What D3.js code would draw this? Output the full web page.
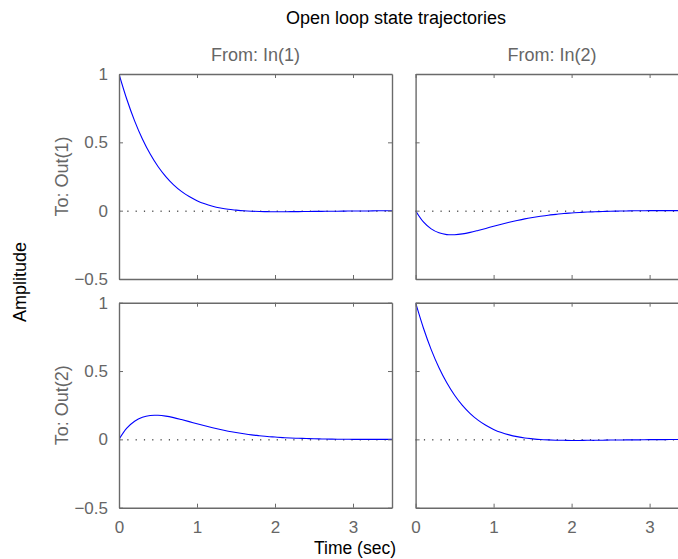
<!DOCTYPE html>
<html>
<head>
<meta charset="utf-8">
<script src="https://cdn.jsdelivr.net/npm/d3@7"></script>
<style>
  html, body { margin: 0; padding: 0; background: #fff; }
  svg { display: block; font-family: "Liberation Sans", Arial, Helvetica, sans-serif; }
</style>
</head>
<body>
<svg id="chart" width="678" height="559"></svg>
<script>
// ---- data ----
const time = [0,0.1,0.2,0.3,0.4,0.5,0.6,0.7,0.8,0.9,1.0,1.1,1.2,1.3,1.4,1.5,1.6,1.7,1.8,1.9,2.0,2.1,2.2,2.3,2.4,2.5,2.6,2.7,2.8,2.9,3.0,3.1,3.2,3.3,3.4,3.5];
const out1FromIn1 = [1.000,0.815,0.657,0.524,0.414,0.323,0.249,0.189,0.141,0.103,0.073,0.050,0.033,0.020,0.010,0.004,-0.001,-0.004,-0.006,-0.007,-0.008,-0.008,-0.007,-0.007,-0.006,-0.005,-0.005,-0.004,-0.004,-0.003,-0.002,-0.002,-0.002,-0.001,-0.001,-0.001];
const out2FromIn1 = [0.000,0.082,0.133,0.162,0.175,0.176,0.170,0.159,0.145,0.130,0.114,0.099,0.085,0.072,0.060,0.050,0.041,0.033,0.027,0.021,0.017,0.013,0.010,0.008,0.006,0.004,0.003,0.002,0.001,0.001,0.000,0.000,0.000,0.000,0.000,0.000];
const out1FromIn2 = [0.000,-0.082,-0.133,-0.162,-0.175,-0.176,-0.170,-0.159,-0.145,-0.130,-0.114,-0.099,-0.085,-0.072,-0.060,-0.050,-0.041,-0.033,-0.027,-0.021,-0.017,-0.013,-0.010,-0.008,-0.006,-0.004,-0.003,-0.002,-0.001,-0.001,0.000,0.000,0.000,0.000,0.000,0.000];
const out2FromIn2 = [1.000,0.815,0.657,0.524,0.414,0.323,0.249,0.189,0.141,0.103,0.073,0.050,0.033,0.020,0.010,0.004,-0.001,-0.004,-0.006,-0.007,-0.008,-0.008,-0.007,-0.007,-0.006,-0.005,-0.005,-0.004,-0.004,-0.003,-0.002,-0.002,-0.002,-0.001,-0.001,-0.001];
const inputs = ["From: In(1)", "From: In(2)"];
const outputs = ["To: Out(1)", "To: Out(2)"];
const xTicks = [0, 1, 2, 3];
const yTicks = [-0.5, 0, 0.5, 1];
const xDomain = [0, 3.5];
const yDomain = [-0.5, 1];
const series = [[out1FromIn1, out1FromIn2], [out2FromIn1, out2FromIn2]]; // [row][col]

// ---- layout ----
const svg = d3.select("#chart");
const colX = [[119, 392], [415.6, 688.6]];
const rowY = [[279, 74], [507.7, 302.7]];
const axisColor = "#6a6a6a";
const textGray = "#666";
const fs = 18;

const defs = svg.append("defs");

svg.append("text").attr("x", 396).attr("y", 24).attr("text-anchor", "middle")
  .attr("font-size", fs).attr("fill", "#000").text("Open loop state trajectories");

inputs.forEach((t, c) => {
  svg.append("text").attr("x", (colX[c][0] + colX[c][1]) / 2).attr("y", 61)
    .attr("text-anchor", "middle").attr("font-size", fs).attr("fill", textGray).text(t);
});

outputs.forEach((t, r) => {
  const cy = (rowY[r][0] + rowY[r][1]) / 2;
  svg.append("text").attr("transform", `translate(68,${cy}) rotate(-90)`)
    .attr("text-anchor", "middle").attr("font-size", fs).attr("fill", textGray).text(t);
});

svg.append("text").attr("transform", `translate(26,282) rotate(-90)`)
  .attr("text-anchor", "middle").attr("font-size", fs).attr("fill", "#000").text("Amplitude");

svg.append("text").attr("x", 355).attr("y", 554).attr("text-anchor", "middle")
  .attr("font-size", 17.5).attr("fill", "#000").text("Time (sec)");

const fmtY = d => d < 0 ? "\u2212" + Math.abs(d) : String(d);

for (let r = 0; r < 2; r++) {
  for (let c = 0; c < 2; c++) {
    const x = d3.scaleLinear().domain(xDomain).range(colX[c]);
    const y = d3.scaleLinear().domain(yDomain).range(rowY[r]);
    const g = svg.append("g");
    const id = `clip${r}${c}`;
    defs.append("clipPath").attr("id", id).append("rect")
      .attr("x", colX[c][0]).attr("y", rowY[r][1])
      .attr("width", colX[c][1] - colX[c][0]).attr("height", rowY[r][0] - rowY[r][1]);

    // zero reference line
    g.append("line").attr("x1", x(0)).attr("x2", x(3.5)).attr("y1", y(0)).attr("y2", y(0))
      .attr("stroke", "#000").attr("stroke-width", 1).attr("stroke-dasharray", "1.2,7.1")
      .attr("transform", "translate(0,0.5)");

    // curve
    const vals = series[r][c];
    const line = d3.line().x((d, i) => x(time[i])).y(d => y(d)).curve(d3.curveCatmullRom.alpha(0.5));
    g.append("path").datum(vals).attr("d", line).attr("fill", "none")
      .attr("stroke", "#0000ff").attr("stroke-width", 1.1).attr("clip-path", `url(#${id})`);

    // axes (ticks inward, box)
    const bottom = d3.axisBottom(x).tickValues(xTicks).tickSizeInner(-4).tickSizeOuter(0)
      .tickFormat(r === 1 ? d3.format("d") : () => "").tickPadding(13);
    const top = d3.axisTop(x).tickValues(xTicks).tickSizeInner(-4).tickSizeOuter(0).tickFormat(() => "");
    const left = d3.axisLeft(y).tickValues(yTicks).tickSizeInner(-4).tickSizeOuter(0)
      .tickFormat(c === 0 ? fmtY : () => "").tickPadding(11);
    const right = d3.axisRight(y).tickValues(yTicks).tickSizeInner(-4).tickSizeOuter(0).tickFormat(() => "");

    const gb = g.append("g").attr("transform", `translate(0,${rowY[r][0]})`).call(bottom);
    const gt = g.append("g").attr("transform", `translate(0,${rowY[r][1]})`).call(top);
    const gl = g.append("g").attr("transform", `translate(${colX[c][0]},0)`).call(left);
    const gr = g.append("g").attr("transform", `translate(${colX[c][1]},0)`).call(right);
    [gb, gt, gl, gr].forEach(a => {
      a.select(".domain").attr("stroke", axisColor).attr("stroke-width", 1.4);
      a.selectAll(".tick line").attr("stroke", axisColor).attr("stroke-width", 1);
      a.selectAll(".tick text").attr("fill", textGray).attr("font-size", 17)
        .attr("font-family", "'Liberation Sans', Arial, sans-serif");
    });
  }
}
</script>
</body>
</html>
